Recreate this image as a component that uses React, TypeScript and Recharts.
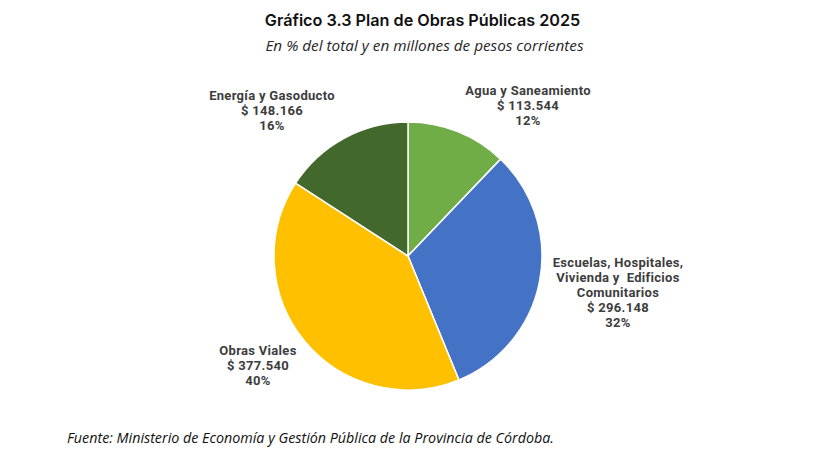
import { PieChart, Pie, Cell } from "recharts";

// Plan de Obras Públicas 2025 - millones de pesos corrientes
const categories = [
  "Agua y Saneamiento",
  "Escuelas, Hospitales, Vivienda y  Edificios Comunitarios",
  "Obras Viales",
  "Energía y Gasoducto",
];
const amounts = [113544, 296148, 377540, 148166];
const amountLabels = ["$ 113.544", "$ 296.148", "$ 377.540", "$ 148.166"];
const percentLabels = ["12%", "32%", "40%", "16%"];

// cortes de línea de cada etiqueta
const labelLines = [
  ["Agua y Saneamiento"],
  ["Escuelas, Hospitales,", "Vivienda y  Edificios", "Comunitarios"],
  ["Obras Viales"],
  ["Energía y Gasoducto"],
];

const colors = ["#70AD47", "#4472C4", "#FFC000", "#43682B"];

const data = categories.map((name, i) => ({ name, value: amounts[i] }));

// desplazamiento de cada etiqueta respecto del centro de la torta
const labelOffset = [
  { dx: 120, dy: -161 },
  { dx: 210, dy: 11 },
  { dx: -150, dy: 99 },
  { dx: -136, dy: -156 },
];

const W = 819;
const H = 460;

const renderLabel = (props: any) => {
  const { cx, cy, index } = props;
  const off = labelOffset[index];
  const lines = [...labelLines[index], amountLabels[index], percentLabels[index]];
  const x = cx + off.dx;
  const y = cy + off.dy;
  return (
    <text
      x={x}
      y={y}
      textAnchor="middle"
      fill="#3d3d3d"
      style={{ fontFamily: "Roboto", fontWeight: 700, fontSize: "13px", letterSpacing: "0.3px" }}
    >
      {lines.map((l, i) => (
        <tspan key={i} x={x} dy={i === 0 ? 0 : 15} style={{ whiteSpace: "pre" }}>
          {l}
        </tspan>
      ))}
    </text>
  );
};

export default function App() {
  return (
    <div style={{ position: "relative", width: W, height: H, background: "#fff" }}>
      <style>{`body{margin:0}`}</style>
      <div
        style={{
          position: "absolute",
          top: 10,
          left: 0,
          width: W,
          textAlign: "center",
          fontFamily: "Inter",
          fontWeight: 600,
          fontSize: "16.2px",
          color: "#111",
          paddingLeft: 13,
        }}
      >
        Gráfico 3.3 Plan de Obras Públicas 2025
      </div>
      <div
        style={{
          position: "absolute",
          top: 35,
          left: 0,
          width: W,
          textAlign: "center",
          fontFamily: "Open Sans",
          fontStyle: "italic",
          fontSize: "15.3px",
          color: "#262626",
          paddingLeft: 15,
        }}
      >
        En % del total y en millones de pesos corrientes
      </div>
      <PieChart
        width={W}
        height={H}
        margin={{ top: 0, right: 0, bottom: 0, left: 0 }}
        style={{ position: "absolute", top: 0, left: 0 }}
      >
        <Pie
          data={data}
          dataKey="value"
          cx={408}
          cy={256}
          outerRadius={134}
          startAngle={90}
          endAngle={-270}
          stroke="#fff"
          strokeWidth={1.5}
          label={renderLabel}
          labelLine={false}
          isAnimationActive={false}
        >
          {data.map((_, i) => (
            <Cell key={`cell-${i}`} fill={colors[i]} />
          ))}
        </Pie>
      </PieChart>
      <div
        style={{
          position: "absolute",
          top: 428,
          left: 67,
          fontFamily: "Open Sans",
          fontStyle: "italic",
          fontSize: "14.3px",
          color: "#111",
        }}
      >
        Fuente: Ministerio de Economía y Gestión Pública de la Provincia de Córdoba.
      </div>
    </div>
  );
}
